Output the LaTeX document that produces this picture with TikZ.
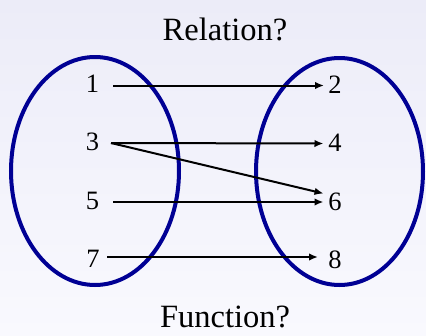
\documentclass[tikz,border=0pt]{standalone}
\usepackage{fontspec}
\setmainfont{Liberation Serif}
\usetikzlibrary{arrows.meta}
\definecolor{bgtop}{HTML}{ECECF8}
\definecolor{bgbot}{HTML}{F9F9FE}
\definecolor{setblue}{HTML}{000094}
\tikzset{
  digit/.style={inner sep=0pt, anchor=base, font=\fontsize{26.5}{30}\selectfont},
  title/.style={inner sep=0pt, anchor=base, font=\fontsize{32.5}{38}\selectfont},
  setellipse/.style={draw=setblue, line width=4pt},
  arr/.style={draw=black, line width=2pt, -{Latex[length=9pt,width=7.5pt]}},
}
\begin{document}
\begin{tikzpicture}[x=1pt,y=-1pt]
\useasboundingbox (0,0) rectangle (426,335);
\shade[top color=bgtop, bottom color=bgbot] (0,0) rectangle (426,335);
% sets
\draw[setellipse] (95,171) ellipse [x radius=84, y radius=114];
\draw[setellipse] (339.5,171.5) ellipse [x radius=83.5, y radius=113.5];
% titles
\node[title] (rel) at (225,40) {Relation?};
\node[title] (fun) at (225,327.5) {Function?};
% domain
\node[digit] (n1) at (92.5,92) {1};
\node[digit] (n3) at (92.5,150.5) {3};
\node[digit] (n5) at (92.5,209) {5};
\node[digit] (n7) at (93,267) {7};
% range
\node[digit] (n2) at (335,93) {2};
\node[digit] (n4) at (335,151) {4};
\node[digit] (n6) at (335,210.5) {6};
\node[digit] (n8) at (335,268) {8};
% arrow anchors
\coordinate (s1) at (113,85.5);
\coordinate (s3) at (111,143);
\coordinate (s5) at (113,202);
\coordinate (s7) at (107,257);
\coordinate (e2) at (324,85.5);
\coordinate (e4) at (323.5,143.5);
\coordinate (e6a) at (323.5,193.5);
\coordinate (e6b) at (323.5,202);
\coordinate (e8) at (318,257);
\draw[arr] (s1) -- (e2);
\draw[arr] (s3) -- (e4);
\draw[arr] (s3) -- (e6a);
\draw[arr] (s5) -- (e6b);
\draw[arr] (s7) -- (e8);
\end{tikzpicture}
\end{document}
